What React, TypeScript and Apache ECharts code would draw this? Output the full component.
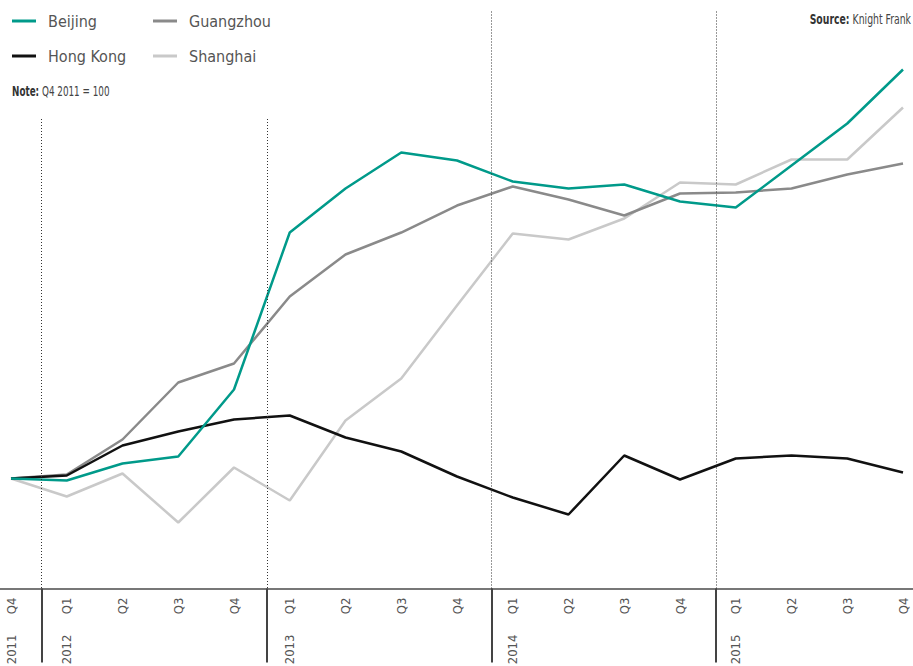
import { useEffect, useRef } from "react";
import * as echarts from "echarts";

// Quarter labels, Q4 2011 through Q4 2015
const quarters = ["Q4", "Q1", "Q2", "Q3", "Q4", "Q1", "Q2", "Q3", "Q4", "Q1", "Q2", "Q3", "Q4", "Q1", "Q2", "Q3", "Q4"];
const yearLabels = ["2011", "2012", "2013", "2014", "2015"];
const yearStartIndex = [0, 1, 5, 9, 13];

// Index, Q4 2011 = 100
const beijing = [100, 99.8, 101.5, 102.2, 108.9, 124.6, 129.0, 132.6, 131.8, 129.7, 129.0, 129.4, 127.7, 127.1, 131.3, 135.5, 140.9];
const guangzhou = [100, 100.4, 103.9, 109.6, 111.5, 118.2, 122.4, 124.6, 127.3, 129.2, 127.9, 126.3, 128.5, 128.6, 129.0, 130.4, 131.5];
const hongKong = [100, 100.3, 103.3, 104.7, 105.9, 106.3, 104.1, 102.7, 100.2, 98.1, 96.4, 102.3, 99.9, 102.0, 102.3, 102.0, 100.6];
const shanghai = [100, 98.2, 100.5, 95.6, 101.1, 97.8, 105.8, 110.0, 117.3, 124.5, 123.9, 126.0, 129.6, 129.4, 131.9, 131.9, 137.1];

const FONT = "'Liberation Sans Narrow', 'DejaVu Sans Condensed', 'Roboto Condensed', sans-serif";

export default function App() {
  const ref = useRef<HTMLDivElement>(null);

  useEffect(() => {
    document.body.style.margin = "0";
    if (!ref.current) return;
    const chart = echarts.init(ref.current, undefined, { renderer: "svg" });

    const idx = quarters.map((_, i) => i);
    const toPairs = (arr: number[]) => arr.map((v, i) => [i, v]);

    // year separators (in index units) and dotted guide tops
    const breaks = [0.55, 4.59, 8.62, 12.65];
    const guideTops = [135.95, 135.95, 146.7, 146.7];

    const xMin = -11 / 55.75;
    const xMax = 16 + 10 / 55.75;

    const lineSeries = (name: string, data: number[], color: string, extra: any = {}) => ({
      name,
      type: "line",
      data: toPairs(data),
      xAxisIndex: 0,
      yAxisIndex: 0,
      symbol: "none",
      showSymbol: false,
      lineStyle: { color, width: 2.5 },
      itemStyle: { color },
      ...extra,
    });

    const legendBase = {
      orient: "vertical",
      top: 13,
      icon: "rect",
      itemWidth: 24,
      itemHeight: 3,
      itemGap: 19,
      padding: 0,
      selectedMode: false,
      textStyle: { fontFamily: FONT, fontSize: 16, color: "#555", padding: [0, 0, 0, 7] },
    };

    const noteStyle = {
      fontFamily: FONT,
      fontSize: 14,
      fill: "#444",
      verticalAlign: "middle",
      rich: { b: { fontFamily: FONT, fontSize: 14, fontWeight: "bold", fill: "#333", color: "#333" } },
    };

    chart.setOption({
      animation: false,
      backgroundColor: "#ffffff",
      textStyle: { fontFamily: FONT },
      graphic: [
        {
          type: "text",
          x: 12,
          y: 91,
          scaleX: 0.7,
          style: { ...noteStyle, text: "{b|Note:} Q4 2011 = 100", align: "left" },
        },
        {
          type: "text",
          x: 911,
          y: 19,
          scaleX: 0.74,
          style: { ...noteStyle, text: "{b|Source:} Knight Frank", align: "right" },
        },
      ],
      legend: [
        { ...legendBase, left: 12, data: ["Beijing", "Hong Kong"] },
        { ...legendBase, left: 153, data: ["Guangzhou", "Shanghai"] },
      ],
      grid: { left: 0, right: 0, top: 8.5, bottom: 77.5, containLabel: false, outerBoundsMode: "none" },
      xAxis: [
        {
          type: "value",
          position: "bottom",
          min: xMin,
          max: xMax,
          axisLine: { show: true, lineStyle: { color: "#777", width: 2 } },
          axisTick: {
            show: true,
            customValues: breaks,
            length: 74,
            lineStyle: { color: "#444", width: 2 },
          },
          axisLabel: {
            show: true,
            customValues: idx,
            rotate: 90,
            margin: 9,
            fontFamily: FONT,
            fontSize: 13,
            color: "#555",
            formatter: (v: number) => quarters[Math.round(v)] ?? "",
          },
          splitLine: { show: false },
        },
        {
          type: "value",
          position: "bottom",
          offset: 0,
          min: xMin,
          max: xMax,
          axisLine: { show: false },
          axisTick: { show: false },
          axisLabel: {
            show: true,
            customValues: yearStartIndex,
            rotate: 90,
            margin: 46,
            fontFamily: FONT,
            fontSize: 13,
            color: "#555",
            formatter: (v: number) => {
              const k = yearStartIndex.indexOf(Math.round(v));
              return k >= 0 ? yearLabels[k] : "";
            },
          },
          splitLine: { show: false },
        },
      ],
      yAxis: { type: "value", show: false, min: 89, max: 147, splitLine: { show: false } },
      series: [
        lineSeries("Shanghai", shanghai, "#c9c9c9", {
          markLine: {
            silent: true,
            symbol: "none",
            label: { show: false },
            lineStyle: { color: "#333", width: 1, type: [1, 2] },
            data: breaks.map((b, i) => [{ coord: [b, guideTops[i]] }, { coord: [b, 89] }]),
          },
        }),
        lineSeries("Guangzhou", guangzhou, "#8a8a8a"),
        lineSeries("Hong Kong", hongKong, "#111111"),
        lineSeries("Beijing", beijing, "#009a8a"),
      ],
    });

    return () => chart.dispose();
  }, []);

  return <div ref={ref} style={{ position: "fixed", left: 0, top: 0, width: 913, height: 666 }} />;
}
